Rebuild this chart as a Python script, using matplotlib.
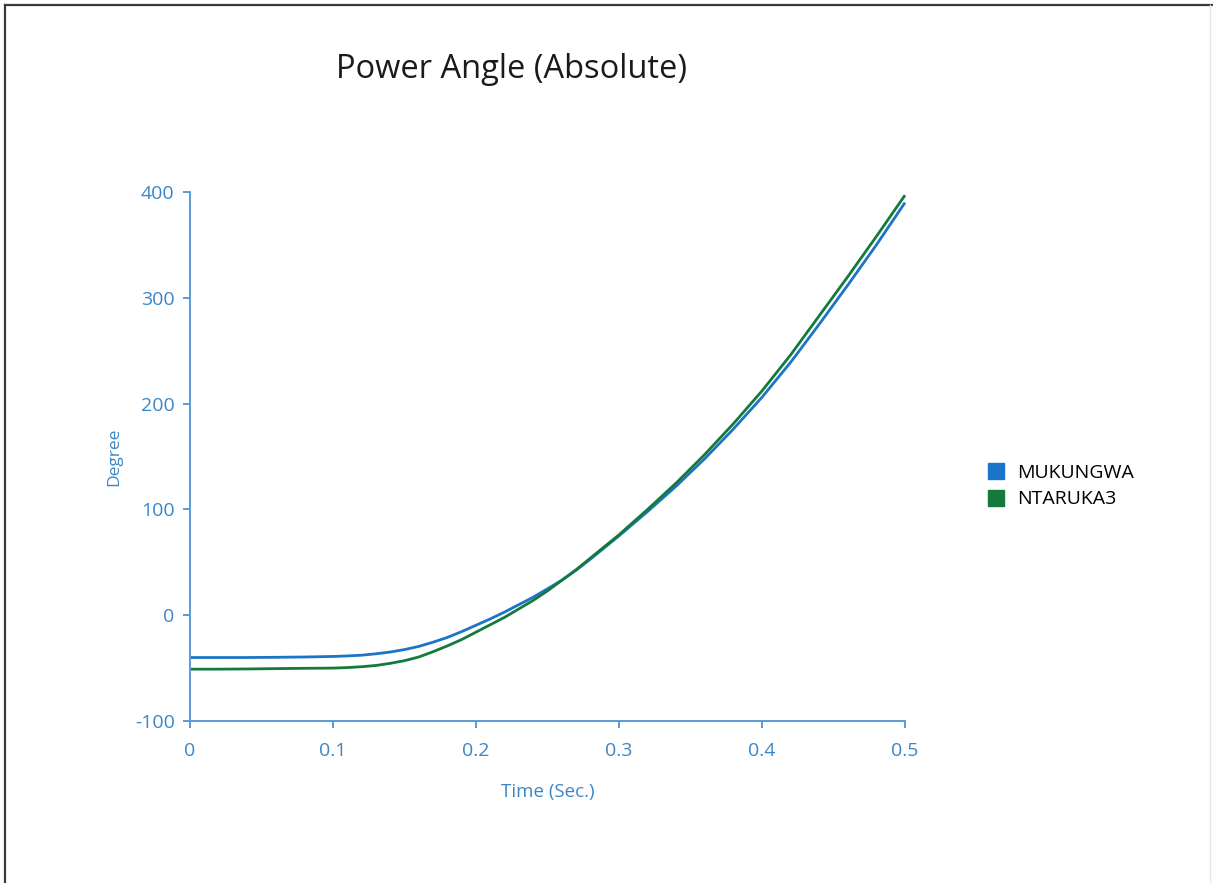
import matplotlib
matplotlib.use('Agg')
import matplotlib.pyplot as plt
from matplotlib.lines import Line2D
from matplotlib.ticker import FuncFormatter

plt.rcParams['font.family'] = ['Open Sans', 'DejaVu Sans']
plt.rcParams['axes.unicode_minus'] = False

# ─── Data: absolute power angle (degrees) vs time (s) ─────────────────────────
time_s = [0.00, 0.02, 0.04, 0.06, 0.08,
          0.10, 0.11, 0.12, 0.13, 0.14, 0.15, 0.16, 0.17, 0.18, 0.19, 0.20,
          0.21, 0.22, 0.23, 0.24, 0.25, 0.26, 0.27, 0.28, 0.29, 0.30,
          0.32, 0.34, 0.36, 0.38, 0.40, 0.42, 0.44, 0.46, 0.48, 0.50]
mukungwa = [-40, -40, -40, -39.8, -39.5,
            -39, -38.5, -37.8, -36.5, -34.8, -32.5, -29.5, -25.5, -21, -15.5, -9.5,
            -3.5, 3, 10, 17, 25, 33, 42.5, 53, 64, 75,
            98, 122, 148, 176, 206, 239, 275, 312, 350, 390]
ntaruka3 = [-51, -51, -50.8, -50.5, -50.2,
            -50, -49.5, -48.7, -47.5, -45.5, -43, -39.5, -34.5, -29, -23, -16,
            -9, -2, 6, 14, 23, 33, 43, 54, 65, 76,
            100, 125, 152, 181, 212, 246, 283, 320, 358, 397]
series_names = ['MUKUNGWA', 'NTARUKA3']
series_colors = ['#1C74C8', '#137A3C']

x_ticks = [0, 0.1, 0.2, 0.3, 0.4, 0.5]
y_ticks = [-100, 0, 100, 200, 300, 400]

AXIS_CLR = '#5B9BD5'
LABEL_CLR = '#3B86C8'

# ─── Canvas ───────────────────────────────────────────────────────────────────
fig = plt.figure(figsize=(12.13, 8.83), dpi=100)
fig.patch.set_facecolor('white')
ax = fig.add_axes([190 / 1213, 1 - 721 / 883, 715 / 1213, 529 / 883])

for name, ys, clr in zip(series_names, [mukungwa, ntaruka3], series_colors):
    ax.plot(time_s, ys, color=clr, lw=2.0, label=name, clip_on=False,
            solid_capstyle='butt', solid_joinstyle='round')

ax.set_xlim(0, 0.5)
ax.set_ylim(-100, 400)
ax.set_xticks(x_ticks)
ax.set_yticks(y_ticks)
ax.xaxis.set_major_formatter(FuncFormatter(lambda v, _: f'{v:g}'))
ax.yaxis.set_major_formatter(FuncFormatter(lambda v, _: f'{v:g}'))

for side in ('top', 'right'):
    ax.spines[side].set_visible(False)
for side in ('left', 'bottom'):
    ax.spines[side].set_color(AXIS_CLR)
    ax.spines[side].set_linewidth(1.4)

ax.tick_params(axis='both', colors=AXIS_CLR, length=5, width=1.4,
               labelcolor=LABEL_CLR, labelsize=14)
ax.tick_params(axis='x', pad=10)
ax.tick_params(axis='y', pad=6)

ax.set_xlabel('Time (Sec.)', color=LABEL_CLR, fontsize=13.5, labelpad=17)
ax.set_ylabel('Degree', color=LABEL_CLR, fontsize=12.5, labelpad=9)

# Title sits left of the axes centre
fig.text(511 / 1213, 1 - 70 / 883, 'Power Angle (Absolute)',
         ha='center', va='center', fontsize=23.5, color='#1A1A1A')

# Legend with square swatches
handles = [Line2D([], [], marker='s', linestyle='none', markersize=12,
                  markerfacecolor=c, markeredgecolor=c) for c in series_colors]
fig.legend(handles, series_names, loc='center left',
           bbox_to_anchor=(978 / 1213, 1 - 486 / 883), frameon=False,
           fontsize=14, handletextpad=0.6, labelspacing=0.45,
           handlelength=1.0, borderaxespad=0)

# Window frame edges
fig.add_artist(Line2D([5 / 1213, 5 / 1213], [0, 1 - 5 / 883],
                      transform=fig.transFigure, color='#3A3A3A', lw=1.6))
fig.add_artist(Line2D([5 / 1213, 1], [1 - 5 / 883, 1 - 5 / 883],
                      transform=fig.transFigure, color='#3A3A3A', lw=1.6))
fig.add_artist(Line2D([1210 / 1213, 1210 / 1213], [0, 1 - 5 / 883],
                      transform=fig.transFigure, color='#E6E6E6', lw=1.0))

fig.savefig('out.png', dpi=100, facecolor='white')
